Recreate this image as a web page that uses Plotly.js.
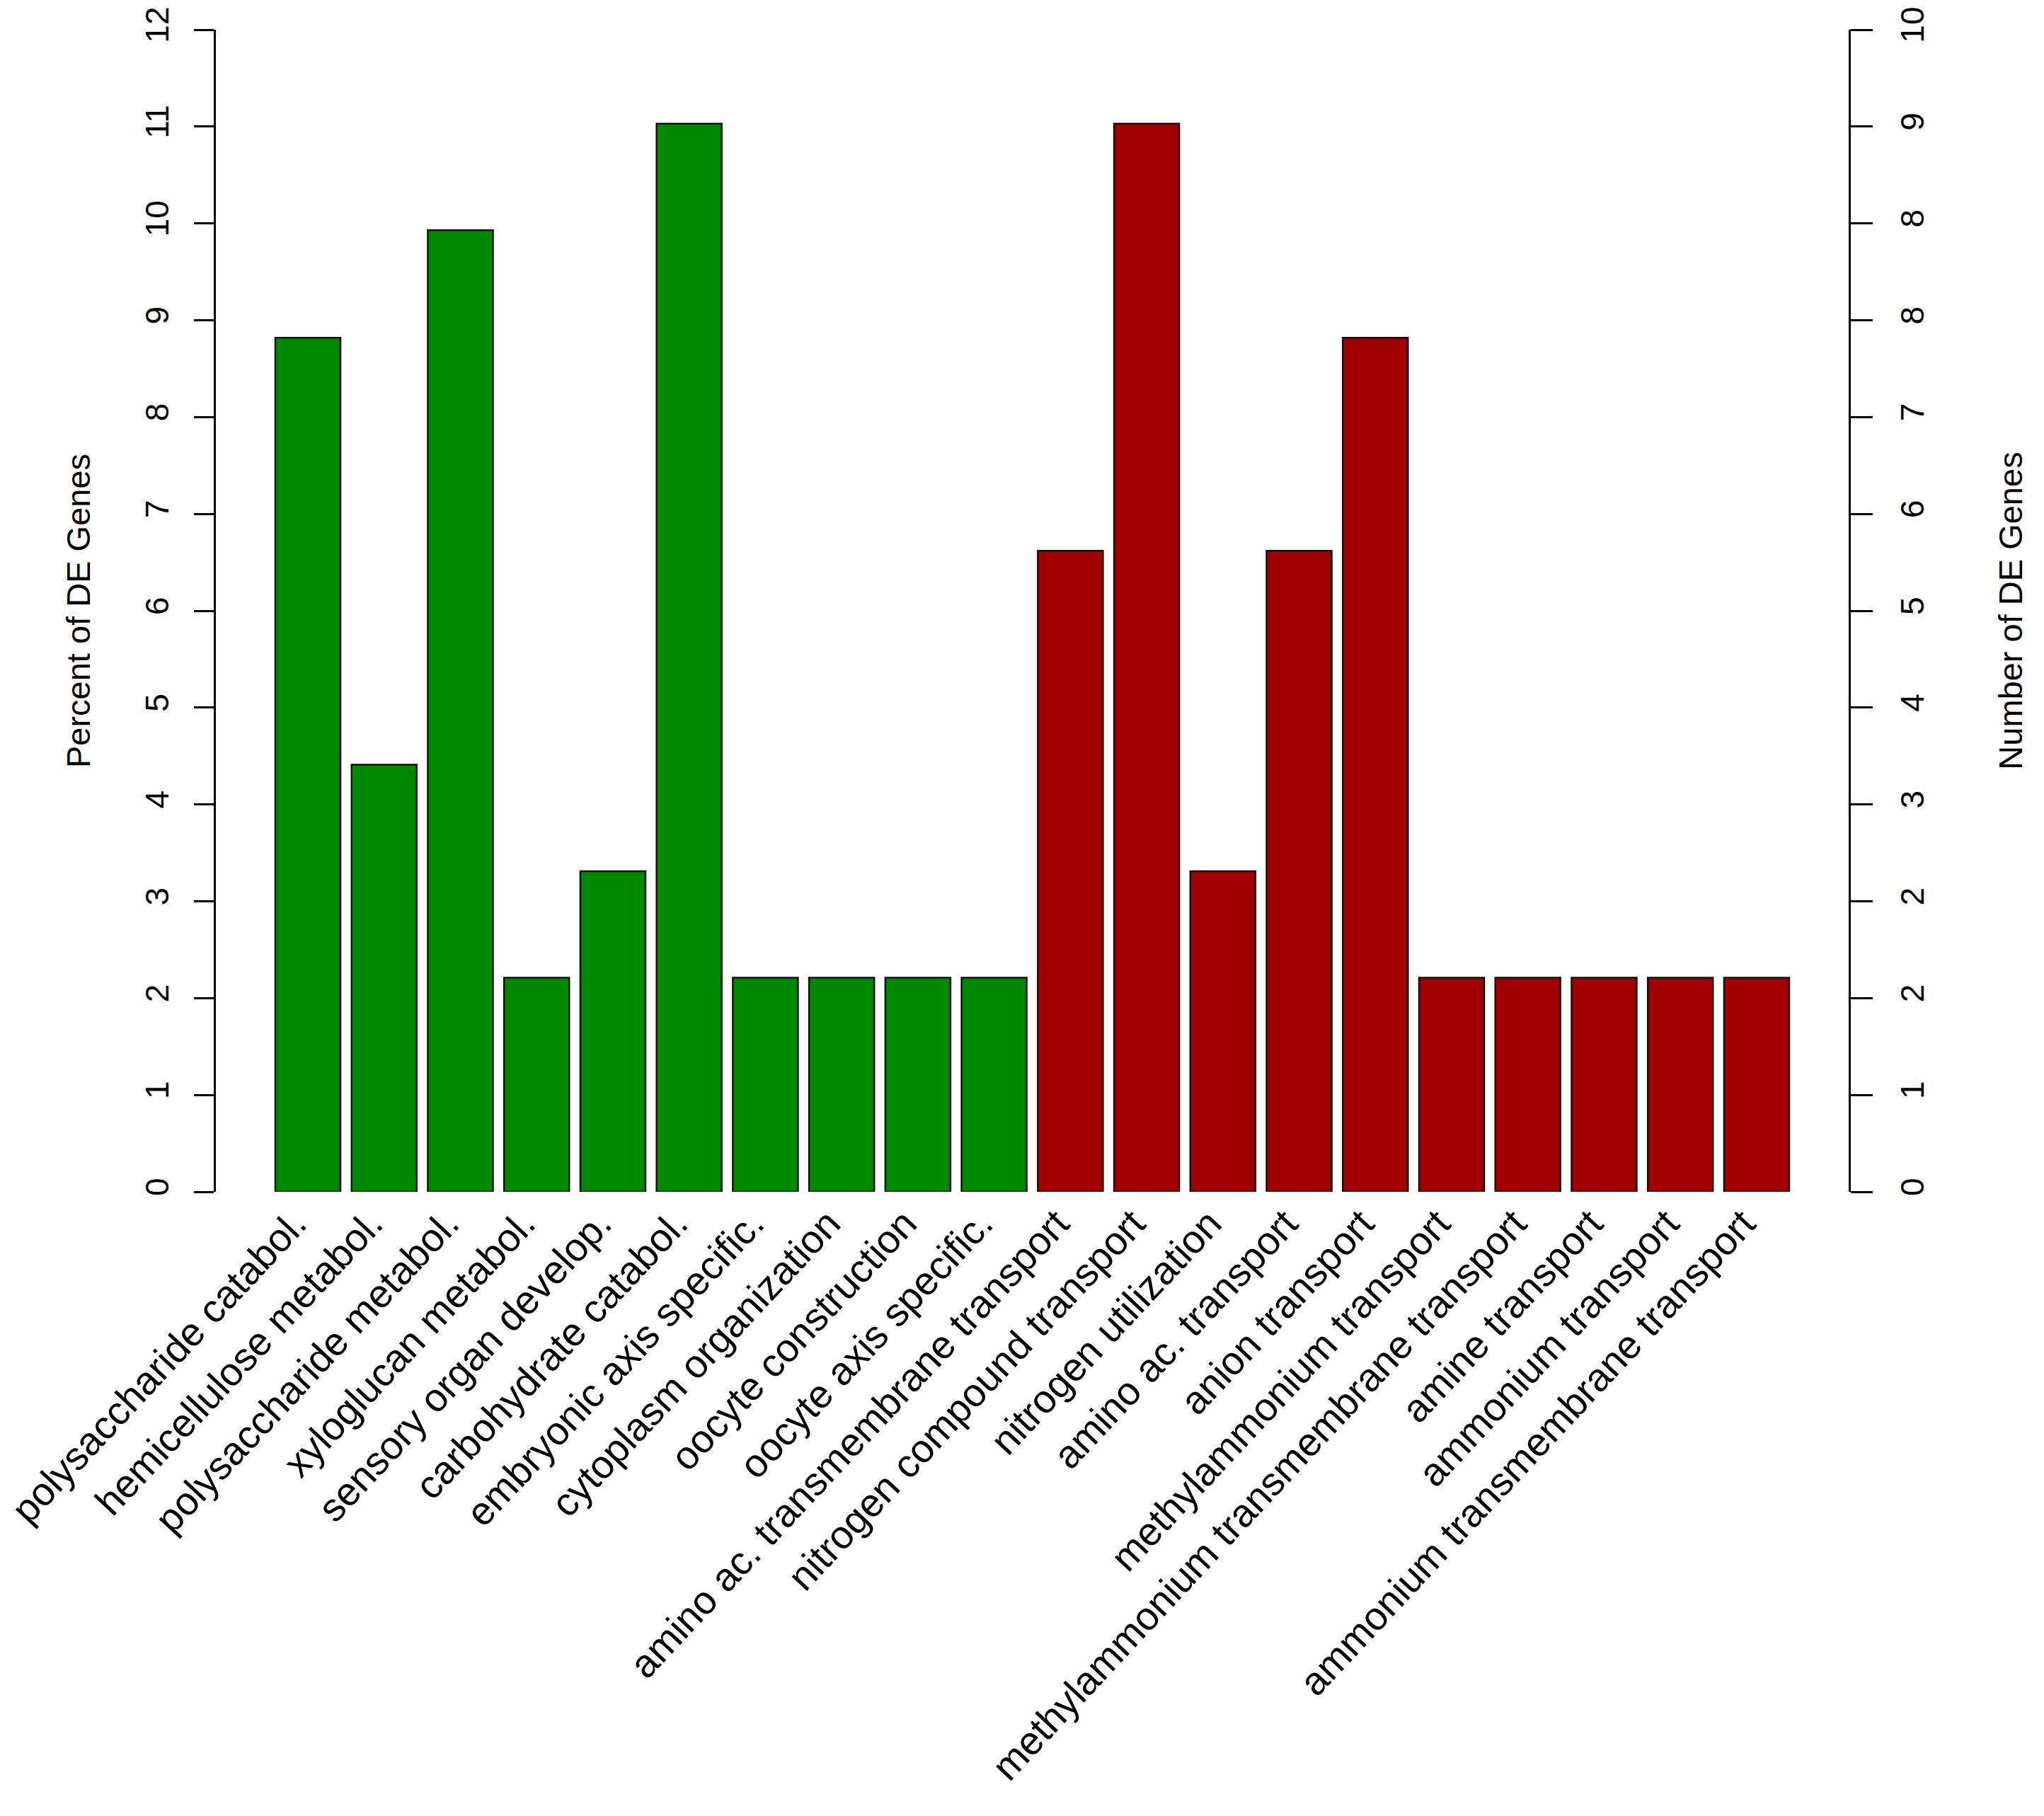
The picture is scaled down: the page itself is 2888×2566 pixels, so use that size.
<!DOCTYPE html>
<html>
<head>
<meta charset="utf-8">
<script src="https://cdn.plot.ly/plotly-3.0.1.min.js"></script>
<style>html,body{margin:0;padding:0;background:#fff;}#chart{width:2888px;height:2566px;}</style>
</head>
<body>
<div id="chart"></div>
<script>
var categories = [
  "polysaccharide catabol.",
  "hemicellulose metabol.",
  "polysaccharide metabol.",
  "xyloglucan metabol.",
  "sensory organ develop.",
  "carbohydrate catabol.",
  "embryonic axis specific.",
  "cytoplasm organization",
  "oocyte construction",
  "oocyte axis specific.",
  "amino ac. transmembrane transport",
  "nitrogen compound transport",
  "nitrogen utilization",
  "amino ac. transport",
  "anion transport",
  "methylammonium transport",
  "methylammonium transmembrane transport",
  "amine transport",
  "ammonium transport",
  "ammonium transmembrane transport"
];
var percentValues = [8.82, 4.41, 9.93, 2.21, 3.31, 11.03, 2.21, 2.21, 2.21, 2.21,
                     6.62, 11.03, 3.31, 6.62, 8.82, 2.21, 2.21, 2.21, 2.21, 2.21];
var groupIsGreen = [1,1,1,1,1,1,1,1,1,1, 0,0,0,0,0,0,0,0,0,0];
var leftTickVals = [0,1,2,3,4,5,6,7,8,9,10,11,12];
var leftTickText = ["0","1","2","3","4","5","6","7","8","9","10","11","12"];
var rightTickText = ["0","1","2","2","3","4","5","6","7","8","8","9","10"];

var GREEN = "#008800", RED = "#A00000";
var colors = groupIsGreen.map(function(g){ return g ? GREEN : RED; });
var font = "Liberation Sans, Arial, sans-serif";

var traces = [
  {
    type: "bar",
    x: categories,
    y: percentValues,
    marker: {color: colors, line: {color: "#111", width: 2.5}},
    hoverinfo: "x+y"
  },
  {
    type: "scatter",
    x: [categories[0]],
    y: [0],
    yaxis: "y2",
    mode: "markers",
    marker: {opacity: 0},
    showlegend: false,
    hoverinfo: "skip"
  }
];

var layout = {
  width: 2888,
  height: 2566,
  paper_bgcolor: "#fff",
  plot_bgcolor: "#fff",
  showlegend: false,
  bargap: 0.146,
  margin: {l: 305, r: 276, t: 42, b: 882, pad: 0},
  font: {family: font, color: "#000", size: 46},
  xaxis: {
    type: "category",
    range: [-1.207, 20.207],
    showline: false,
    showgrid: false,
    zeroline: false,
    ticks: "",
    tickangle: -47,
    ticklabelshift: -19,
    tickfont: {family: font, size: 55.5, color: "#000"},
    automargin: false
  },
  yaxis: {
    range: [0, 12],
    tickvals: leftTickVals,
    ticktext: leftTickText,
    showline: true,
    linecolor: "#000",
    linewidth: 3,
    showgrid: false,
    zeroline: false,
    ticks: "outside",
    ticklen: 28,
    tickwidth: 3,
    tickcolor: "#000",
    tickangle: -90,
    ticklabelstandoff: 18,
    tickfont: {family: font, size: 46, color: "#000"},
    automargin: false,
    title: {text: "Percent of DE Genes", font: {family: font, size: 47, color: "#000"}, standoff: 54}
  },
  yaxis2: {
    overlaying: "y",
    side: "right",
    range: [0, 12],
    tickvals: leftTickVals,
    ticktext: rightTickText,
    showline: true,
    linecolor: "#000",
    linewidth: 3,
    showgrid: false,
    zeroline: false,
    ticks: "outside",
    ticklen: 31,
    tickwidth: 3,
    tickcolor: "#000",
    tickangle: -90,
    ticklabelstandoff: 17,
    tickfont: {family: font, size: 46, color: "#000"},
    automargin: false,
    title: {text: "Number of DE Genes", font: {family: font, size: 47, color: "#000"}, standoff: 97}
  }
};

Plotly.newPlot("chart", traces, layout, {displayModeBar: false, staticPlot: true});
</script>
</body>
</html>
